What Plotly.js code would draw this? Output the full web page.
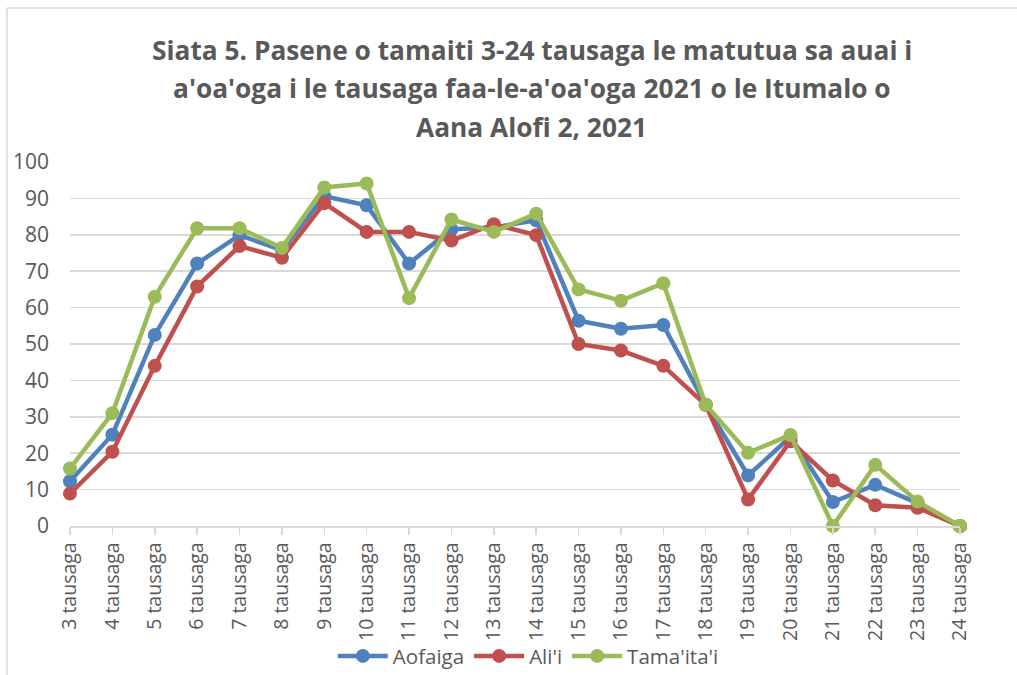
<!DOCTYPE html>
<html>
<head>
<meta charset="utf-8">
<script src="https://cdn.plot.ly/plotly-3.0.1.min.js"></script>
<style>html,body{margin:0;padding:0;background:#fff;}#chart{width:1017px;height:675px;}</style>
</head>
<body>
<div id="chart"></div>
<script>
const categories = ["3 tausaga","4 tausaga","5 tausaga","6 tausaga","7 tausaga","8 tausaga","9 tausaga","10 tausaga","11 tausaga","12 tausaga","13 tausaga","14 tausaga","15 tausaga","16 tausaga","17 tausaga","18 tausaga","19 tausaga","20 tausaga","21 tausaga","22 tausaga","23 tausaga","24 tausaga"];
const aofaiga = [12.3, 25.1, 52.5, 72.1, 79.9, 75.8, 90.6, 88.1, 72.1, 81.5, 82.0, 84.0, 56.4, 54.2, 55.2, 33.3, 13.9, 24.5, 6.6, 11.3, 6.3, 0];
const alii = [8.9, 20.4, 44.0, 65.8, 76.9, 73.7, 88.7, 80.8, 80.8, 78.4, 82.9, 79.9, 50.0, 48.2, 44.0, 33.3, 7.3, 23.3, 12.5, 5.7, 5.0, 0];
const tamaitai = [15.8, 31.0, 63.0, 81.8, 81.8, 76.4, 93.0, 94.1, 62.6, 84.2, 80.8, 85.8, 65.0, 61.9, 66.7, 33.3, 20.1, 25.0, 0, 16.8, 6.7, 0];
const seriesNames = ["Aofaiga", "Ali'i", "Tama'ita'i"];
const titleLines = ["Siata 5. Pasene o tamaiti 3-24 tausaga le matutua sa auai i", "a'oa'oga i le tausaga faa-le-a'oa'oga 2021 o le Itumalo o", "Aana Alofi 2, 2021"];

const colors = ["#4f81bd", "#c0504d", "#9bbb59"];
const font = "'Open Sans', Lato, sans-serif";
const values = [aofaiga, alii, tamaitai];
const traces = values.map((v, i) => ({
  type: "scatter", mode: "lines+markers", x: categories, y: v, name: seriesNames[i],
  line: {color: colors[i], width: 4.5}, marker: {color: colors[i], size: 14},
  cliponaxis: false
}));

const titleY = [50, 88, 127];
const annotations = titleLines.map((t, i) => ({
  text: "<b>" + t + "</b>", xref: "paper", yref: "paper", x: 0.519, y: (526 - titleY[i]) / 364,
  xanchor: "center", yanchor: "middle", showarrow: false,
  font: {family: font, size: 26.3, color: "#595959"}
}));

const layout = {
  width: 1017, height: 675,
  margin: {l: 70, r: 57, t: 162, b: 149},
  paper_bgcolor: "#fff", plot_bgcolor: "#fff",
  showlegend: true,
  legend: {orientation: "h", x: 0.515, xanchor: "center", yref: "container", y: 0.028, yanchor: "middle",
    bgcolor: "rgba(0,0,0,0)",
    font: {family: font, size: 20.5, color: "#595959"}, itemwidth: 50, traceorder: "normal"},
  xaxis: {type: "category", range: [0, 21], showgrid: false, showline: true, linecolor: "#d9d9d9", linewidth: 1.5,
    ticks: "outside", ticklen: 7, tickcolor: "#d9d9d9", tickwidth: 1.5, tickangle: -90, automargin: false,
    tickfont: {family: font, size: 19.5, color: "#595959"}, zeroline: false, fixedrange: true},
  yaxis: {range: [0, 100], dtick: 10, showgrid: true, gridcolor: "#d9d9d9", gridwidth: 1.5, zeroline: false, automargin: false,
    showline: false, ticks: "", tickfont: {family: font, size: 21, color: "#595959"}, ticklabelstandoff: 20, fixedrange: true},
  annotations: annotations,
  shapes: [
    {type: "line", xref: "paper", yref: "paper", x0: (7 - 70) / 890, x1: 1.2, y0: (526 - 8) / 364, y1: (526 - 8) / 364, line: {color: "#d9d9d9", width: 1.5}},
    {type: "line", xref: "paper", yref: "paper", x0: (7 - 70) / 890, x1: (7 - 70) / 890, y0: (526 - 8) / 364, y1: -0.5, line: {color: "#d9d9d9", width: 1.5}}
  ]
};
Plotly.newPlot("chart", traces, layout, {displayModeBar: false, staticPlot: true});
</script>
</body>
</html>
